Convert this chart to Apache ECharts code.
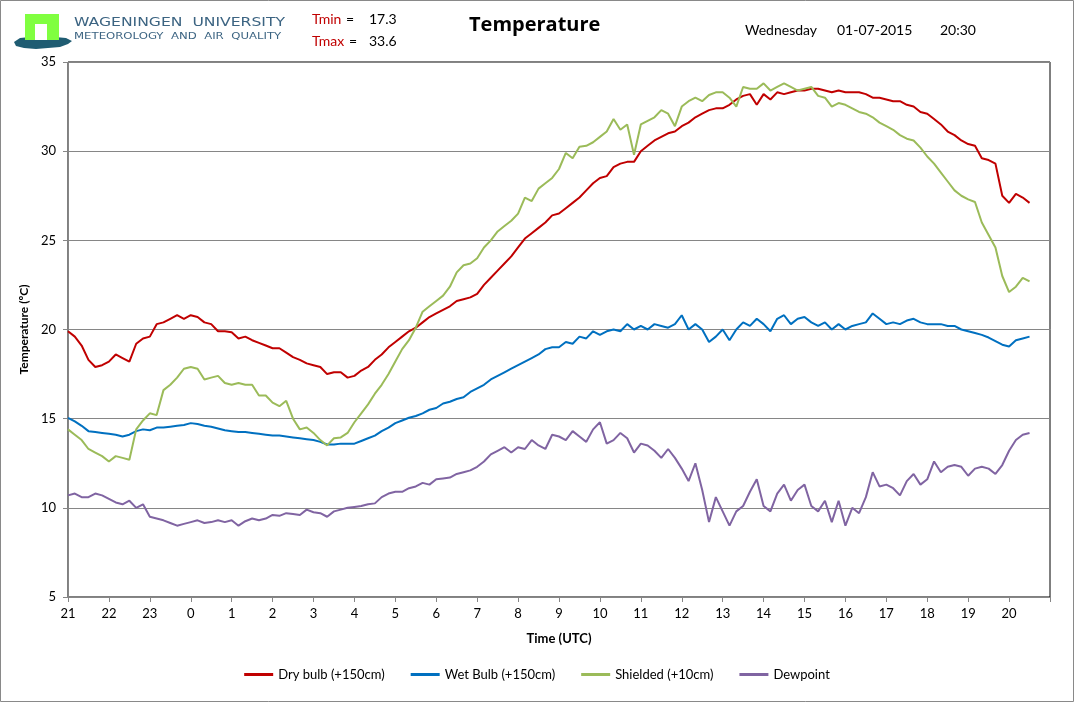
<!DOCTYPE html>
<html><head><meta charset="utf-8">
<script src="https://cdn.jsdelivr.net/npm/echarts@6/dist/echarts.min.js"></script>
<style>html,body{margin:0;padding:0;background:#fff}#c{width:1074px;height:702px}</style>
</head><body><div id="c"></div>
<script>
// time axis: hours since 21:00 (UTC), one value per 10 minutes, up to 20:30
const hourLabels = ['21','22','23','0','1','2','3','4','5','6','7','8','9','10','11','12','13','14','15','16','17','18','19','20'];
const seriesNames = ['Dry bulb (+150cm)','Wet Bulb (+150cm)','Shielded (+10cm)','Dewpoint'];
const dryBulb = [19.9,19.6,19.1,18.3,17.9,18.0,18.2,18.6,18.4,18.2,19.2,19.5,19.6,20.3,20.4,20.6,20.8,20.6,20.8,20.7,20.4,20.3,19.9,19.9,19.85,19.5,19.6,19.4,19.25,19.1,18.95,18.95,18.7,18.45,18.3,18.1,18.0,17.9,17.5,17.6,17.6,17.3,17.4,17.7,17.9,18.3,18.6,19.0,19.3,19.6,19.9,20.1,20.4,20.7,20.9,21.1,21.3,21.6,21.7,21.8,22.0,22.5,22.9,23.3,23.7,24.1,24.6,25.1,25.4,25.7,26.0,26.4,26.5,26.8,27.1,27.4,27.8,28.2,28.5,28.6,29.1,29.3,29.4,29.4,30.0,30.3,30.6,30.8,31.0,31.1,31.4,31.6,31.9,32.1,32.3,32.4,32.4,32.6,32.9,33.1,33.2,32.6,33.2,32.9,33.3,33.2,33.3,33.4,33.4,33.5,33.5,33.4,33.3,33.4,33.3,33.3,33.3,33.2,33.0,33.0,32.9,32.8,32.8,32.6,32.5,32.2,32.1,31.8,31.5,31.1,30.9,30.6,30.4,30.3,29.6,29.5,29.3,27.5,27.1,27.6,27.4,27.1];
const wetBulb = [15.05,14.85,14.6,14.3,14.25,14.2,14.15,14.1,14.0,14.1,14.3,14.4,14.35,14.5,14.5,14.55,14.6,14.65,14.75,14.7,14.6,14.55,14.45,14.35,14.3,14.25,14.25,14.2,14.15,14.1,14.05,14.05,14.0,13.95,13.9,13.85,13.8,13.7,13.55,13.55,13.6,13.6,13.6,13.75,13.9,14.05,14.3,14.5,14.75,14.9,15.05,15.15,15.3,15.5,15.6,15.85,15.95,16.1,16.2,16.5,16.7,16.9,17.2,17.4,17.6,17.8,18.0,18.2,18.4,18.6,18.9,19.0,19.0,19.3,19.2,19.6,19.5,19.9,19.7,19.9,20.0,19.9,20.3,20.0,20.2,20.0,20.3,20.2,20.1,20.3,20.8,20.0,20.3,20.0,19.3,19.6,20.0,19.4,20.0,20.4,20.2,20.6,20.3,19.9,20.6,20.8,20.3,20.6,20.7,20.4,20.2,20.4,20.0,20.3,20.0,20.2,20.3,20.4,20.9,20.6,20.3,20.4,20.3,20.5,20.6,20.4,20.3,20.3,20.3,20.2,20.2,20.0,19.9,19.8,19.7,19.55,19.35,19.15,19.05,19.4,19.5,19.6];
const shielded = [14.4,14.1,13.8,13.3,13.1,12.9,12.6,12.9,12.8,12.7,14.4,14.9,15.3,15.2,16.6,16.9,17.3,17.8,17.9,17.8,17.2,17.3,17.4,17.0,16.9,17.0,16.9,16.9,16.3,16.3,15.9,15.7,16.0,15.0,14.4,14.5,14.2,13.8,13.5,13.9,13.95,14.2,14.8,15.3,15.8,16.4,16.9,17.5,18.2,18.9,19.4,20.1,21.0,21.3,21.6,21.9,22.4,23.2,23.6,23.7,24.0,24.6,25.0,25.5,25.8,26.1,26.5,27.4,27.2,27.9,28.2,28.5,29.0,29.9,29.6,30.25,30.3,30.5,30.8,31.1,31.8,31.2,31.5,29.8,31.5,31.7,31.9,32.3,32.1,31.4,32.5,32.8,33.0,32.8,33.15,33.3,33.3,33.0,32.5,33.6,33.5,33.5,33.8,33.4,33.6,33.8,33.6,33.4,33.5,33.6,33.1,33.0,32.5,32.7,32.6,32.4,32.2,32.1,31.9,31.6,31.4,31.2,30.9,30.7,30.6,30.2,29.7,29.3,28.8,28.3,27.8,27.5,27.3,27.15,26.0,25.3,24.6,23.0,22.1,22.4,22.9,22.7];
const dewpoint = [10.7,10.8,10.6,10.6,10.8,10.7,10.5,10.3,10.2,10.4,10.0,10.2,9.5,9.4,9.3,9.15,9.0,9.1,9.2,9.3,9.15,9.2,9.3,9.2,9.3,9.0,9.25,9.4,9.3,9.4,9.6,9.55,9.7,9.65,9.6,9.9,9.75,9.7,9.5,9.8,9.9,10.0,10.05,10.1,10.2,10.25,10.6,10.8,10.9,10.9,11.1,11.2,11.4,11.3,11.6,11.65,11.7,11.9,12.0,12.1,12.3,12.6,13.0,13.2,13.4,13.1,13.4,13.3,13.8,13.5,13.3,14.1,14.0,13.8,14.3,14.0,13.7,14.4,14.8,13.6,13.8,14.2,13.9,13.1,13.6,13.5,13.2,12.8,13.3,12.8,12.2,11.5,12.5,11.0,9.2,10.6,9.8,9.0,9.8,10.1,10.9,11.6,10.1,9.8,10.8,11.3,10.4,11.0,11.3,10.1,9.8,10.4,9.2,10.4,9.0,10.0,9.7,10.6,12.0,11.2,11.3,11.1,10.7,11.5,11.9,11.3,11.6,12.6,12.0,12.3,12.4,12.3,11.8,12.2,12.3,12.2,11.9,12.4,13.2,13.8,14.1,14.2];
const colors = ['#C00000','#0070C0','#9BBB59','#8064A2'];
const allSeries = [dryBulb, wetBulb, shielded, dewpoint];

const chart = echarts.init(document.getElementById('c'), null, {renderer:'canvas'});
const FONT = 'Lato, "Liberation Sans", sans-serif';
const series = allSeries.map((arr, s) => ({
  name: seriesNames[s], type: 'line', showSymbol: false, symbol: 'none',
  lineStyle: {width: 2, color: colors[s]}, itemStyle: {color: colors[s]},
  data: arr.map((v, i) => [i / 6, v]), animation: false, z: 3
}));

chart.setOption({
  backgroundColor: '#fff',
  animation: false,
  textStyle: {fontFamily: FONT},
  grid: {left: 68, top: 62, right: 24, bottom: 105, show: true, borderColor: '#000', borderWidth: 1, backgroundColor: 'transparent'},
  xAxis: {
    type: 'value', min: 0, max: 24, interval: 1,
    name: 'Time (UTC)', nameLocation: 'middle', nameGap: 35,
    nameTextStyle: {fontFamily: FONT, fontWeight: 'bold', fontSize: 13, color: '#000'},
    axisLine: {show: true, lineStyle: {color: '#868686', width: 1}},
    axisTick: {show: true, inside: false, length: 5, lineStyle: {color: '#868686'}},
    axisLabel: {margin: 10, fontSize: 13, color: '#000', fontFamily: FONT,
      formatter: v => (v >= 0 && v < 24 ? hourLabels[Math.round(v)] : '')},
    splitLine: {show: false}
  },
  yAxis: {
    type: 'value', min: 5, max: 35, interval: 5,
    name: 'Temperature (ºC)', nameLocation: 'middle', nameGap: 32, nameRotate: 90,
    nameTextStyle: {fontFamily: FONT, fontWeight: 'bold', fontSize: 12, color: '#000'},
    axisLine: {show: true, lineStyle: {color: '#868686', width: 1}},
    axisTick: {show: true, inside: false, length: 5, lineStyle: {color: '#868686'}},
    axisLabel: {margin: 12, fontSize: 13, color: '#000', fontFamily: FONT},
    splitLine: {show: true, lineStyle: {color: '#868686', width: 1}}
  },
  legend: {
    bottom: 16, left: 'center', itemWidth: 29, itemHeight: 3, itemGap: 26, icon: 'rect',
    textStyle: {fontSize: 13, color: '#000', fontFamily: FONT},
    data: seriesNames
  },
  series: series,
  graphic: [
    {type: 'rect', shape: {x: 0.5, y: 0.5, width: 1073, height: 701}, style: {fill: 'none', stroke: '#898989', lineWidth: 1}, silent: true, z: -1},
    // logo
    {type: 'polygon', shape: {points: [[14,42],[20,38],[30,37],[42,38],[55,37],[66,38],[72,41],[68,44],[60,47],[48,48],[36,49],[24,48],[16,46]]}, style: {fill: '#1F5C72'}},
    {type: 'rect', shape: {x: 25, y: 14, width: 34, height: 26}, style: {fill: '#80FF40'}},
    {type: 'rect', shape: {x: 35, y: 24, width: 12, height: 16}, style: {fill: '#fff'}},
    {type: 'text', x: 74, y: 16, scaleX: 1.2, style: {text: 'WAGENINGEN  UNIVERSITY', fontSize: 13, fontFamily: '"DejaVu Sans", sans-serif', fill: '#3C6482'}},
    {type: 'text', x: 74, y: 32, scaleX: 1.3, style: {text: 'METEOROLOGY  AND  AIR  QUALITY', fontSize: 9, fontFamily: '"DejaVu Sans", sans-serif', fill: '#3C6482'}},
    {type: 'text', left: 312, top: 12, style: {text: 'Tmin', fontSize: 14, fontFamily: FONT, fill: '#C00000'}},
    {type: 'text', left: 346, top: 12, style: {text: '=', fontSize: 14, fontFamily: FONT, fill: '#000'}},
    {type: 'text', left: 369, top: 12, style: {text: '17.3', fontSize: 14, fontFamily: FONT, fill: '#000'}},
    {type: 'text', left: 312, top: 34, style: {text: 'Tmax', fontSize: 14, fontFamily: FONT, fill: '#C00000'}},
    {type: 'text', left: 349, top: 34, style: {text: '=', fontSize: 14, fontFamily: FONT, fill: '#000'}},
    {type: 'text', left: 369, top: 34, style: {text: '33.6', fontSize: 14, fontFamily: FONT, fill: '#000'}},
    {type: 'text', left: 469, top: 15, style: {text: 'Temperature', fontSize: 20, fontWeight: 'bold', fontFamily: '"Open Sans", Lato, sans-serif', fill: '#000'}},
    {type: 'text', left: 745, top: 23, style: {text: 'Wednesday', fontSize: 14, fontFamily: FONT, fill: '#000'}},
    {type: 'text', left: 837, top: 23, style: {text: '01-07-2015', fontSize: 14, fontFamily: FONT, fill: '#000'}},
    {type: 'text', left: 940, top: 23, style: {text: '20:30', fontSize: 14, fontFamily: FONT, fill: '#000'}}
  ]
});
</script>
</body></html>
